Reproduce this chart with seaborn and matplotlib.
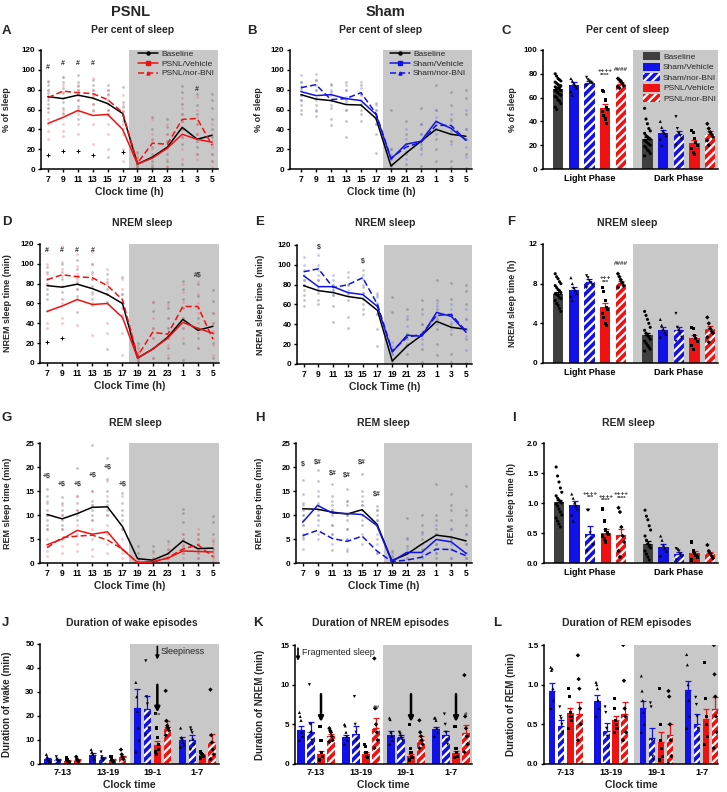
import numpy as np
import pandas as pd
import matplotlib
matplotlib.use('Agg')
import matplotlib.pyplot as plt
import seaborn as sns
from matplotlib.lines import Line2D
from matplotlib.patches import Patch

# ---------------- data ----------------
HOURS = ['7', '9', '11', '13', '15', '17', '19', '21', '23', '1', '3', '5']
PHASES = ['Light Phase', 'Dark Phase']
BLOCKS = ['7-13', '13-19', '19-1', '1-7']
GROUPS5 = ['Baseline', 'Sham/Vehicle', 'Sham/nor-BNI', 'PSNL/Vehicle', 'PSNL/nor-BNI']
GROUPS4 = GROUPS5[1:]

# Panel A: per cent of sleep, PSNL
A_base = [73, 71, 74.5, 71.5, 66, 56, 5, 12, 22, 42, 30, 34]
A_veh = [46, 52, 59, 54, 55, 40, 5, 11, 21, 35, 30, 27]
A_nbni = [72, 78.5, 77, 76, 70, 57, 6, 26, 25, 50, 51, 24]
A_pts_base = [[89, 85, 80, 77, 73, 70, 66, 62, 57], [93, 88, 82, 77, 72, 68, 62, 56], [95, 88, 84, 80, 75, 70, 64, 58, 50],
              [90, 85, 80, 76, 72, 66, 60], [85, 80, 76, 70, 66, 60, 55, 12], [83, 68, 63, 58, 54, 48, 40],
              [17, 12, 8, 5, 3, 1], [52, 40, 30, 22, 15, 8, 3, 1], [50, 42, 35, 28, 22, 15, 8, 2],
              [84, 78, 66, 55, 48, 40, 32, 25, 5], [76, 65, 55, 45, 35, 28, 22, 15], [76, 70, 62, 50, 40, 32, 25, 15, 8]]
A_pts_trt = [[88, 80, 74, 62, 50, 45, 38, 30], [93, 85, 78, 60, 55, 45, 38, 33], [85, 80, 76, 70, 62, 55, 45, 35],
             [92, 80, 74, 66, 58, 45, 25], [80, 75, 70, 60, 55, 45, 35, 20], [75, 65, 58, 45, 35, 20, 8],
             [15, 10, 6, 3, 1], [50, 35, 28, 20, 12, 5, 1], [45, 35, 28, 20, 10, 3],
             [72, 62, 55, 48, 40, 32, 20, 10], [73, 60, 52, 45, 35, 28, 15, 10], [45, 35, 28, 22, 15, 8, 2]]
A_plus_x = [0, 1, 2, 3, 5]
A_plus_y = [14, 18, 18, 14, 17]
A_marks = [(0, 102, '#'), (1, 106, '#'), (2, 106, '#'), (3, 106, '#'), (10, 80, '#')]

# Panel B: per cent of sleep, Sham
B_base = [75, 70.5, 69, 65, 64.5, 51, 3, 16, 28, 40, 35, 33]
B_veh = [78, 74, 75, 71, 69, 55, 10, 25, 28, 48, 41, 29]
B_nbni = [82, 85, 70, 71, 77, 56, 11, 22, 27, 44, 44, 29]
B_pts_base = [[88, 82, 75, 70, 65, 60, 55], [90, 80, 72, 65, 58, 53], [86, 78, 70, 62, 50, 44], [88, 80, 70, 60, 48, 32],
              [85, 75, 66, 60, 55, 48], [67, 60, 52, 45, 35, 16], [60, 20, 10, 3, 0], [48, 35, 25, 15, 5, 0],
              [62, 45, 35, 25, 20, 3], [85, 60, 48, 40, 30, 20, 8], [78, 65, 50, 38, 28, 8, 2], [80, 72, 55, 40, 30, 15, 1]]
B_pts_trt = [[95, 88, 84, 80, 75, 70], [96, 90, 85, 80, 70, 60], [85, 80, 75, 70, 65], [85, 80, 73, 68, 60],
             [88, 82, 76, 70, 65], [65, 60, 55, 50, 45], [20, 15, 10, 5], [40, 30, 25, 18, 10],
             [45, 35, 28, 22, 15], [60, 52, 47, 40, 35], [55, 48, 42, 35, 25], [60, 40, 30, 22, 12]]

# Panel D: NREM sleep time (min), PSNL
D_base = [78, 76.5, 79.5, 75, 69, 60, 5, 14, 26, 44, 33, 37]
D_veh = [52, 57.5, 64, 59, 60, 46, 5, 14, 25, 41, 35, 30]
D_nbni = [84, 89, 87, 86, 78, 64, 7, 31, 29, 57, 57, 24]
D_pts_base = [[97, 92, 85, 80, 75, 70, 65], [100, 92, 85, 78, 72, 65], [104, 95, 88, 82, 75, 68, 51],
              [100, 92, 85, 78, 72, 65, 58], [90, 82, 75, 70, 62, 14], [87, 70, 62, 55, 48],
              [20, 15, 10, 5, 2, 0], [62, 52, 35, 25, 15, 5, 0], [62, 55, 45, 35, 25, 15, 5],
              [83, 75, 65, 55, 45, 35, 20, 3], [80, 68, 55, 45, 35, 25, 15], [74, 63, 50, 40, 30, 20, 5]]
D_pts_trt = [[115, 100, 90, 85, 80, 52, 40, 35], [118, 102, 95, 88, 60, 45, 40], [110, 98, 90, 85, 75, 65, 38],
             [112, 100, 90, 85, 70, 60, 28], [95, 85, 80, 70, 60, 40, 30], [85, 75, 70, 60, 45, 30, 8],
             [18, 12, 8, 4, 1], [62, 45, 35, 25, 15, 5], [58, 45, 35, 28, 18, 8],
             [80, 72, 62, 55, 45, 35, 25], [82, 70, 60, 50, 40, 30, 15], [50, 40, 32, 25, 18, 8]]
D_plus_x = [0, 1]
D_plus_y = [21, 25]
D_marks = [(0, 113, '#'), (1, 113, '#'), (2, 113, '#'), (3, 113, '#'), (10, 88, '#$')]

# Panel E: NREM sleep time (min), Sham
E_base = [79, 74, 72, 68, 66, 54, 3, 18, 29, 43, 37, 35]
E_veh = [89, 78, 78, 72, 70, 58, 12, 29, 28, 52, 48, 32]
E_nbni = [93, 96, 77, 80, 87, 60, 13, 27, 30, 49, 50, 33]
E_pts_base = [[85, 80, 75, 70, 65, 58], [85, 78, 72, 65, 60], [80, 75, 70, 58, 42], [80, 72, 65, 47, 36],
              [78, 72, 66, 60, 55, 50], [70, 60, 50, 35, 18], [68, 52, 10, 3, 0], [55, 45, 30, 20, 10, 0],
              [65, 55, 40, 30, 15, 2], [85, 65, 55, 45, 35, 20, 9], [82, 66, 50, 40, 30, 10, 2], [80, 74, 60, 45, 35, 25, 1]]
E_pts_trt = [[108, 100, 95, 90, 85, 80], [110, 100, 95, 90, 85, 75], [90, 85, 80, 75, 70], [93, 88, 80, 75, 70],
             [95, 90, 86, 80, 72], [72, 68, 62, 58, 50], [22, 18, 14, 10], [48, 38, 30, 25, 18],
             [50, 40, 32, 25, 20], [62, 58, 52, 48, 40], [60, 55, 48, 42, 35], [55, 45, 35, 28, 14]]
E_marks = [(1, 117, '$'), (4, 103, '$')]

# Panel G: REM sleep time (min), PSNL
G_base = [10.1, 9.2, 10.3, 11.6, 11.7, 7.6, 0.9, 0.6, 1.9, 4.6, 3.0, 3.1]
G_veh = [3.8, 5.0, 6.8, 6.0, 6.5, 2.8, 0.1, 0.3, 1.0, 2.5, 2.4, 2.3]
G_nbni = [3.2, 5.3, 5.6, 5.8, 4.8, 2.9, 0.1, 0.1, 1.1, 2.9, 3.8, 1.3]
G_pts_base = [[15.5, 14, 12.5, 11, 10, 9, 8, 7], [13.8, 12.5, 11, 10, 9, 8, 7], [19.8, 14, 12.5, 11, 10, 9],
              [24.5, 15, 13, 12, 11, 10, 9], [21.8, 17.5, 15, 13, 12, 11, 10], [14.5, 12.5, 11, 10, 9, 7],
              [3.6, 2, 1, 0.5, 0], [3.6, 2.5, 1, 0.3, 0], [4.6, 3, 2, 1, 0],
              [11.3, 10.5, 8.5, 6, 5, 3.5, 2], [6, 5, 4, 3, 2, 1], [9.8, 8.5, 6, 4.5, 3, 1.5]]
G_pts_trt = [[13, 10, 7, 5, 3.5, 2.5, 1.5], [12, 10, 7, 5, 3.5, 2], [14, 11, 8, 6, 4, 2.5],
             [15, 12, 9, 7, 5, 3, 1.5], [17, 14, 10, 8, 6, 4, 2], [14, 7, 5, 3, 2, 1],
             [1, 0.5, 0.2, 0], [2, 1, 0.5, 0], [4, 3, 2, 1, 0.3],
             [6, 5, 4, 3, 2, 1], [7, 6, 5, 4, 3, 2, 1], [5, 4, 3, 2, 1, 0.5]]
G_marks = [(0, 18.0, '+$'), (1, 16.3, '+$'), (2, 16.3, '+$'), (3, 18.2, '+$'), (4, 19.8, '+$'), (5, 16.3, '+$')]

# Panel H: REM sleep time (min), Sham
H_base = [11.3, 11.2, 10.6, 10.2, 11.1, 8.1, 0.5, 1.8, 3.9, 5.8, 5.4, 4.6]
H_veh = [8.5, 12.0, 10.4, 10.3, 10.1, 7.8, 0.3, 2.2, 2.2, 4.9, 4.4, 2.0]
H_nbni = [5.7, 6.8, 5.1, 4.5, 5.6, 2.5, 0.3, 0.6, 1.2, 2.9, 2.8, 1.5]
H_pts_base = [[17.2, 14.3, 12.5, 11, 10, 9, 8, 5.5], [19.3, 17, 14, 12.5, 11, 10, 9], [16.5, 14, 12, 11, 10, 8, 6, 2.7],
              [15.4, 13, 12, 10, 9, 7, 5, 2.5], [18.5, 15, 13, 12, 11, 10, 8], [11.8, 11, 10, 9, 8, 5, 2],
              [2.5, 1.5, 0.5, 0], [9.4, 5.3, 3.5, 2, 1, 0], [9.9, 8, 6.5, 5, 3, 1.5, 0],
              [16.4, 10, 9, 7, 6, 4, 2, 1], [14.3, 12, 11, 9, 7, 5, 3, 1], [16.1, 11, 10, 8, 6, 4, 2, 1]]
H_pts_trt = [[12, 10, 8, 6, 5, 3], [15, 12, 10, 8, 6, 5], [13, 11, 8, 6, 4], [13, 10, 7, 5, 3],
             [14, 12, 9, 6, 4], [11, 9, 6, 4, 2], [2, 1, 0.5, 0], [5, 3, 2, 1, 0],
             [6, 4, 2, 1, 0], [8, 6, 4, 3, 2], [7, 5, 4, 3, 1], [6, 4, 2, 1, 0]]
H_marks = [(0, 20.6, '$'), (1, 21.0, '$#'), (2, 18.7, '$#'), (3, 18.2, '$#'), (4, 21.0, '$#'), (5, 14.2, '$#')]

# Panel C: per cent of sleep by phase (mean, SEM, points)
C_light = [67.5, 70.5, 72.5, 51.5, 71.5]
C_light_err = [1.5, 2.5, 1.5, 3.5, 1.5]
C_dark = [25.5, 30, 29, 22, 29.5]
C_dark_err = [1.5, 2.5, 3, 2, 2.5]
C_light_pts = [[80, 78, 76, 75, 74, 73, 72, 71, 70, 70, 69, 68, 68, 67, 66, 66, 65, 64, 63, 62, 61, 60, 58, 57, 55, 52, 50],
               [76, 74, 72, 70, 68, 65, 62], [77, 75, 74, 73, 72, 70], [66, 65, 58, 52, 50, 48, 45, 42, 38],
               [76, 75, 74, 72, 70, 69, 68]]
C_dark_pts = [[51, 42, 38, 34, 32, 30, 28, 27, 26, 25, 24, 23, 22, 21, 20, 19, 18, 16, 15, 13, 11],
              [40, 35, 32, 30, 28, 25, 20], [44, 34, 30, 28, 25, 20], [32, 31, 26, 22, 20, 17, 14, 12],
              [38, 34, 31, 29, 27, 24, 20]]
C_marks = [(3, 82.5, '++++'), (3, 78.5, '****'), (4, 83.5, '####')]

# Panel F: NREM sleep time (h) by phase
F_light = [7.0, 7.4, 8.2, 5.6, 8.1]
F_light_err = [0.2, 0.3, 0.3, 0.4, 0.2]
F_dark = [2.8, 3.3, 3.3, 2.5, 3.4]
F_dark_err = [0.2, 0.3, 0.35, 0.3, 0.3]
F_light_pts = [[9.0, 8.7, 8.5, 8.2, 8.0, 7.8, 7.6, 7.4, 7.3, 7.1, 7.0, 6.9, 6.8, 6.6, 6.5, 6.3, 6.0, 5.8, 5.5, 5.2],
               [8.6, 8.0, 7.6, 7.3, 7.0, 6.7, 6.3], [8.8, 8.6, 8.3, 8.1, 7.9, 7.6],
               [7.6, 7.2, 6.3, 5.6, 5.4, 5.0, 4.6, 4.0, 3.8], [9.0, 8.7, 8.4, 8.1, 7.8, 7.6]]
F_dark_pts = [[5.2, 4.8, 4.4, 4.0, 3.6, 3.3, 3.0, 2.8, 2.6, 2.4, 2.2, 2.0, 1.8, 1.6, 1.4, 1.2],
              [4.4, 3.8, 3.4, 3.1, 2.9, 2.6], [5.0, 3.6, 3.3, 3.0, 2.6, 2.2],
              [3.6, 3.5, 2.8, 2.5, 2.2, 1.8, 1.4], [4.6, 4.0, 3.5, 3.2, 3.0, 2.6, 2.1]]
F_marks = [(3, 8.6, '+++'), (3, 8.1, '***'), (4, 10.0, '####')]

# Panel I: REM sleep time (h) by phase
I_light = [1.01, 0.97, 0.49, 0.50, 0.46]
I_light_err = [0.04, 0.06, 0.13, 0.06, 0.10]
I_dark = [0.31, 0.27, 0.15, 0.16, 0.16]
I_dark_err = [0.05, 0.05, 0.03, 0.04, 0.03]
I_light_pts = [[1.6, 1.45, 1.35, 1.25, 1.18, 1.12, 1.08, 1.05, 1.02, 1.0, 0.98, 0.95, 0.9, 0.85, 0.8, 0.75, 0.7, 0.65, 0.6],
               [1.15, 1.08, 1.0, 0.95, 0.9, 0.8, 0.7], [0.88, 0.88, 0.5, 0.4, 0.3, 0.2],
               [0.9, 0.7, 0.55, 0.5, 0.48, 0.45, 0.4, 0.35], [0.92, 0.85, 0.6, 0.45, 0.35, 0.2, 0.1]]
I_dark_pts = [[0.88, 0.78, 0.72, 0.62, 0.55, 0.45, 0.38, 0.32, 0.28, 0.25, 0.2, 0.15, 0.1, 0.05],
              [0.45, 0.38, 0.3, 0.25, 0.2, 0.12], [0.24, 0.22, 0.2, 0.15, 0.1, 0.05],
              [0.35, 0.2, 0.16, 0.12, 0.1, 0.05], [0.3, 0.2, 0.16, 0.12, 0.08]]
I_marks = [(2, 1.16, '++++'), (2, 1.09, '***'), (3, 1.11, '++++'), (3, 1.04, '****'),
           (4, 1.16, '++++'), (4, 1.08, '****')]

# Panel J: duration of wake episodes (min), 4 blocks x 4 groups
J_mean = [[2.2, 1.5, 1.3, 1.8], [3.7, 2.6, 1.6, 2.9], [23.3, 23.0, 8.0, 15.5], [10.0, 10.0, 3.8, 9.2]]
J_err = [[0.5, 0.4, 0.4, 0.4], [0.8, 0.5, 0.3, 0.6], [8.0, 5.5, 1.5, 2.5], [1.3, 2.0, 0.5, 3.2]]
J_pts = [[[4, 3, 2, 1.5, 1], [3, 2, 1.2, 1], [2.5, 2, 1.5, 1, 0.5], [3, 2, 1.5, 1]],
         [[6, 5, 4, 3, 2], [5, 3, 2, 1.5], [3, 2, 1.5, 1], [6, 4, 3, 2]],
         [[34, 28, 22, 15, 10, 5], [43, 28, 25, 20, 15, 12], [21, 15, 11, 8, 6, 5, 4], [30.5, 18, 16, 15, 14, 12]],
         [[15, 11, 10.5, 9, 8, 7], [15, 14, 13, 10, 8, 6], [5, 4.5, 4, 3.5, 3, 2.5], [31, 12, 9, 6, 4, 2]]]

# Panel K: duration of NREM episodes (min)
K_mean = [[4.3, 4.0, 1.3, 3.5], [3.4, 3.8, 1.3, 4.6], [3.7, 3.4, 1.0, 3.0], [4.4, 3.6, 1.4, 3.9]]
K_err = [[0.5, 1.3, 0.3, 0.3], [0.3, 1.0, 0.2, 1.2], [0.5, 0.3, 0.2, 0.5], [0.3, 0.5, 0.2, 1.0]]
K_pts = [[[6.5, 6, 5.5, 4, 3.5, 3], [10, 5, 4, 3, 2.5], [4.7, 4.7, 3, 1.5, 1, 0.5], [4.5, 4.2, 4, 3.5, 3, 2.8]],
         [[5, 4.8, 4, 3.5, 3, 2.5], [8.5, 5, 4, 3, 2], [2.5, 2.2, 1.5, 1, 0.8], [13.3, 7, 5, 4, 3, 2]],
         [[5.8, 5.6, 4, 3.5, 3, 2.5], [4, 3.8, 3.5, 3.2, 3], [5, 2, 1.5, 1, 0.8, 0.5], [5.5, 4, 3.5, 3, 2.5, 2]],
         [[5.8, 5.8, 5.5, 4.5, 4, 3.5], [6.3, 5, 4, 3, 2.5], [4.7, 4.7, 2, 1.5, 1, 0.8], [11.2, 6, 4.5, 3.5, 2.5, 1.5]]]

# Panel L: duration of REM episodes (min)
L_mean = [[0.92, 0.48, 0.64, 0.63], [0.79, 0.42, 0.55, 0.63], [0.70, 0.33, 0.28, 0.36], [0.93, 0.50, 0.57, 0.69]]
L_err = [[0.10, 0.07, 0.07, 0.15], [0.08, 0.10, 0.05, 0.15], [0.10, 0.13, 0.12, 0.14], [0.12, 0.13, 0.12, 0.15]]
L_pts = [[[1.22, 1.18, 1.2, 0.95, 0.8, 0.7], [0.72, 0.6, 0.57, 0.5, 0.4], [0.95, 0.85, 0.65, 0.6, 0.55, 0.45], [1.37, 1.07, 0.95, 0.7, 0.5, 0.3]],
         [[1.03, 1.0, 0.95, 0.8, 0.7, 0.6], [0.72, 0.65, 0.45, 0.35, 0.2], [0.82, 0.7, 0.55, 0.5, 0.45, 0.4], [1.5, 1.05, 0.7, 0.6, 0.4, 0.3]],
         [[1.11, 0.92, 0.8, 0.65, 0.5, 0.4], [0.77, 0.72, 0.3, 0.1, 0.05], [0.95, 0.5, 0.3, 0.2, 0.1, 0.05], [0.92, 0.85, 0.5, 0.3, 0.1, 0.0]],
         [[1.38, 1.25, 1.0, 0.8, 0.6, 0.45], [0.84, 0.75, 0.6, 0.45, 0.3], [1.28, 0.82, 0.6, 0.5, 0.35, 0.25], [1.5, 1.13, 0.85, 0.6, 0.4, 0.2]]]

# ---------------- style ----------------
sns.set_style('ticks')
plt.rcParams['font.family'] = ['Liberation Sans', 'DejaVu Sans']
plt.rcParams['font.weight'] = 'bold'
plt.rcParams['axes.labelweight'] = 'bold'
plt.rcParams['hatch.linewidth'] = 1.6

SHADE = '#c8c8c8'
BLACK = '#000000'
GRAY = '#3f3f3f'
BLUE = '#1212e8'
RED = '#f01212'
COLORS5 = [GRAY, BLUE, BLUE, RED, RED]
HATCH5 = [False, False, True, False, True]
MARK5 = ['o', '^', 'v', 's', 'D']
HATCH = '////'

FW, FH = 727, 792
fig = plt.figure(figsize=(FW / 100, FH / 100), dpi=100)


def add_ax(l, t, r, b):
    return fig.add_axes([l / FW, 1 - b / FH, (r - l) / FW, (b - t) / FH])


def ftext(x, y, s, **kw):
    fig.text(x / FW, 1 - y / FH, s, **kw)


def base_style(ax, box, ylab_x, ytickfs=5.8):
    l, t, r, b = box
    for s in ['top', 'right']:
        ax.spines[s].set_visible(False)
    for s in ['left', 'bottom']:
        ax.spines[s].set_linewidth(1.1)
        ax.spines[s].set_color('black')
    ax.tick_params(axis='y', length=2.5, width=1.0, pad=1.5, labelsize=ytickfs, colors='black')
    ax.yaxis.set_label_coords((ylab_x - l) / (r - l), 0.5)


def pts_long(pts):
    xs, ys = [], []
    for i, vals in enumerate(pts):
        xs += [i] * len(vals)
        ys += list(vals)
    return xs, ys


def line_panel(box, series, names, colors, dashes, pts_base, pts_trt, trt_pt_color, ymax, ystep,
               ylabel, xlabel, ylab_x, xl, shade):
    ax = add_ax(*box)
    xr = 11.4
    ax.set_xlim(xl, xr)
    ax.set_ylim(0, ymax)
    ax.axvspan(shade, xr, color=SHADE, lw=0, zorder=0)
    bx, by = pts_long(pts_base)
    sns.scatterplot(x=bx, y=by, color='#555555', alpha=0.35, s=4, linewidth=0, ax=ax, legend=False, zorder=1)
    tx, ty = pts_long(pts_trt)
    sns.scatterplot(x=tx, y=ty, color=trt_pt_color, alpha=0.4, s=4, linewidth=0, ax=ax, legend=False, zorder=1)
    rows = []
    for nm, ser in zip(names, series):
        for i, v in enumerate(ser):
            rows.append((i, v, nm))
    df = pd.DataFrame(rows, columns=['pos', 'val', 'grp'])
    sns.lineplot(data=df, x='pos', y='val', hue='grp', style='grp', palette=dict(zip(names, colors)),
                 dashes=dict(zip(names, dashes)), linewidth=1.1, legend=False, ax=ax, zorder=3)
    ax.set_xticks(range(12))
    ax.set_xticklabels(HOURS)
    ax.set_yticks(np.arange(0, ymax + 0.001, ystep))
    ax.tick_params(axis='x', length=2, width=1.0, pad=2, labelsize=6.2, colors='black')
    ax.set_xlabel(xlabel, fontsize=7.5, fontweight='bold')
    ax.set_ylabel(ylabel, fontsize=6.5, fontweight='bold')
    base_style(ax, box, ylab_x)
    l, t, r, b = box
    ax.xaxis.set_label_coords(0.5, -23 / (b - t))
    ax.xaxis.label.set_va('center')
    return ax


def marks(ax, items, fs=5):
    for x, y, s in items:
        ax.text(x, y, s, ha='center', va='center', fontsize=fs, color='#333333', fontweight='bold', zorder=5)


def draw_bar(ax, x, m, e, color, hatched, width, errcolor=None):
    if hatched:
        ax.bar(x, m, width=width, color=color, edgecolor='white', hatch=HATCH, linewidth=0, zorder=2)
    else:
        ax.bar(x, m, width=width, color=color, linewidth=0, zorder=2)
    ax.errorbar([x], [m], yerr=[[0], [e]], color=errcolor or color, capsize=2, elinewidth=0.9,
                capthick=0.9, zorder=3)


def dot_offsets(n, spread):
    return [((i % 5) - 2) * spread / 2 for i in range(n)]


def phase_panel(box, light, light_err, dark, dark_err, light_pts, dark_pts, ymax, ystep, ylabel, ylab_x):
    ax = add_ax(*box)
    xl, xr = -0.96, 10.2
    ax.set_xlim(xl, xr)
    ax.set_ylim(0, ymax)
    ax.axvspan(4.8, xr, color=SHADE, lw=0, zorder=0)
    pos_l = [0, 1, 2, 3, 4]
    pos_d = [5.7, 6.7, 7.7, 8.7, 9.7]
    dx, dy, dm = [], [], []
    for pos, means, errs, pts in [(pos_l, light, light_err, light_pts), (pos_d, dark, dark_err, dark_pts)]:
        for k in range(5):
            draw_bar(ax, pos[k], means[k], errs[k], COLORS5[k], HATCH5[k], 0.66,
                     errcolor='black' if k == 0 else None)
            offs = dot_offsets(len(pts[k]), 0.18)
            dx += [pos[k] + o for o in offs]
            dy += list(pts[k])
            dm += [GROUPS5[k]] * len(pts[k])
    sns.scatterplot(x=dx, y=dy, style=dm, markers=dict(zip(GROUPS5, MARK5)), color='black', s=5,
                    linewidth=0, ax=ax, legend=False, zorder=4)
    ax.set_xticks([2, 7.7])
    ax.set_xticklabels(PHASES)
    ax.tick_params(axis='x', length=0, pad=3.5, labelsize=6.5, colors='black')
    ax.set_yticks(np.arange(0, ymax + 0.001, ystep))
    ax.set_ylabel(ylabel, fontsize=6.5, fontweight='bold')
    base_style(ax, box, ylab_x)
    return ax


def dur_panel(box, means, errs, pts, ymax, ystep, ylabel, ylab_x, gstep, xl, xr, shade, width):
    ax = add_ax(*box)
    ax.set_xlim(xl, xr)
    ax.set_ylim(0, ymax)
    ax.axvspan(shade, xr, color=SHADE, lw=0, zorder=0)
    cols = COLORS5[1:]
    hat = HATCH5[1:]
    dx, dy, dm = [], [], []
    centers = []
    for g in range(4):
        centers.append(g * gstep + 1.5)
        for k in range(4):
            x = g * gstep + k
            draw_bar(ax, x, means[g][k], errs[g][k], cols[k], hat[k], width)
            offs = dot_offsets(len(pts[g][k]), 0.16)
            dx += [x + o for o in offs]
            dy += list(pts[g][k])
            dm += [GROUPS4[k]] * len(pts[g][k])
    sns.scatterplot(x=dx, y=dy, style=dm, markers=dict(zip(GROUPS4, MARK5[1:])), color='black', s=5,
                    linewidth=0, ax=ax, legend=False, zorder=4)
    ax.set_xticks(centers)
    ax.set_xticklabels(BLOCKS)
    ax.tick_params(axis='x', length=0, pad=3, labelsize=6.5, colors='black')
    ax.set_yticks(np.arange(0, ymax + 0.0001, ystep))
    ax.set_ylabel(ylabel, fontsize=7, fontweight='bold')
    ax.set_xlabel('Clock time', fontsize=7.5, fontweight='bold')
    base_style(ax, box, ylab_x)
    l, t, r, b = box
    ax.xaxis.set_label_coords(0.5, -21 / (b - t))
    ax.xaxis.label.set_va('center')
    return ax


def arrow(ax, x, y0, y1, lw=1.8, ms=7):
    ax.annotate('', xy=(x, y1), xytext=(x, y0),
                arrowprops=dict(arrowstyle='-|>', lw=lw, color='black', mutation_scale=ms,
                                shrinkA=0, shrinkB=0), zorder=6)


PS_NAMES = ['Baseline', 'PSNL/Vehicle', 'PSNL/nor-BNI']
SH_NAMES = ['Baseline', 'Sham/Vehicle', 'Sham/nor-BNI']
DASHES = ['', '', (4, 2)]
PINK = '#f07070'
LBLUE = '#6878e8'

# ---- Row 1 ----
axA = line_panel((41, 50, 218, 169), [A_base, A_veh, A_nbni], PS_NAMES, [BLACK, RED, RED], DASHES,
                 A_pts_base, A_pts_trt, PINK, 120, 20, '% of sleep', 'Clock time (h)', 11, -0.47, 5.4)
sns.scatterplot(x=A_plus_x, y=A_plus_y, marker='+', color='black', s=10, linewidth=0.7, ax=axA, legend=False, zorder=4)
marks(axA, A_marks)
axB = line_panel((290, 50, 472, 169), [B_base, B_veh, B_nbni], SH_NAMES, [BLACK, BLUE, BLUE], DASHES,
                 B_pts_base, B_pts_trt, LBLUE, 120, 20, '% of sleep', 'Clock time (h)', 263, -0.73, 5.45)
axC = phase_panel((543, 50, 718, 169), C_light, C_light_err, C_dark, C_dark_err, C_light_pts, C_dark_pts,
                  100, 20, '% of sleep', 517)
marks(axC, C_marks, fs=4.5)

# legends
for ax, names, cols in [(axA, PS_NAMES, [BLACK, RED, RED]), (axB, SH_NAMES, [BLACK, BLUE, BLUE])]:
    hs = [Line2D([0], [0], color=cols[0], lw=1.1, marker='o', ms=2.2),
          Line2D([0], [0], color=cols[1], lw=1.1, marker='s', ms=2.2),
          Line2D([0], [0], color=cols[2], lw=1.1, ls=(0, (4, 2)), marker='^', ms=2.2)]
    leg = ax.legend(hs, names, loc='upper left', bbox_to_anchor=(0.53, 1.03), frameon=False,
                    prop={'size': 6.0, 'weight': 'normal'}, handlelength=2.4, labelspacing=0.25,
                    handletextpad=0.4, borderaxespad=0)
hsC = [Patch(facecolor=COLORS5[k], edgecolor='white' if HATCH5[k] else COLORS5[k],
             hatch=HATCH if HATCH5[k] else None, linewidth=0) for k in range(5)]
axC.legend(hsC, GROUPS5, loc='upper left', bbox_to_anchor=(0.55, 1.01), frameon=False,
           prop={'size': 6.0, 'weight': 'normal'}, handlelength=2.1, handleheight=1.1, labelspacing=0.2,
           handletextpad=0.35, borderaxespad=0)

# ---- Row 2 ----
axD = line_panel((40, 244, 219, 363), [D_base, D_veh, D_nbni], PS_NAMES, [BLACK, RED, RED], DASHES,
                 D_pts_base, D_pts_trt, PINK, 120, 20, 'NREM sleep time (min)', 'Clock Time (h)', 12, -0.47, 5.4)
sns.scatterplot(x=D_plus_x, y=D_plus_y, marker='+', color='black', s=10, linewidth=0.7, ax=axD, legend=False, zorder=4)
marks(axD, D_marks)
axE = line_panel((297, 245, 472, 364), [E_base, E_veh, E_nbni], SH_NAMES, [BLACK, BLUE, BLUE], DASHES,
                 E_pts_base, E_pts_trt, LBLUE, 120, 20, 'NREM sleep time  (min)', 'Clock Time (h)', 265, -0.45, 5.45)
marks(axE, E_marks)
axF = phase_panel((543, 244, 718, 363), F_light, F_light_err, F_dark, F_dark_err, F_light_pts, F_dark_pts,
                  12, 4, 'NREM sleep time (h)', 517)
marks(axF, F_marks, fs=4.5)

# ---- Row 3 ----
axG = line_panel((40, 443, 219, 563), [G_base, G_veh, G_nbni], PS_NAMES, [BLACK, RED, RED], DASHES,
                 G_pts_base, G_pts_trt, PINK, 25, 5, 'REM sleep time (min)', 'Clock Time (h)', 12, -0.47, 5.4)
marks(axG, G_marks)
axH = line_panel((296, 443, 472, 563), [H_base, H_veh, H_nbni], SH_NAMES, [BLACK, BLUE, BLUE], DASHES,
                 H_pts_base, H_pts_trt, LBLUE, 25, 5, 'REM sleep time (min)', 'Clock Time (h)', 264, -0.45, 5.45)
marks(axH, H_marks)
axI = phase_panel((544, 443, 718, 563), I_light, I_light_err, I_dark, I_dark_err, I_light_pts, I_dark_pts,
                  2.0, 0.5, 'REM sleep time (h)', 516)
marks(axI, I_marks, fs=4.5)

# ---- Row 4 ----
axJ = dur_panel((40, 644, 219, 764), J_mean, J_err, J_pts, 50, 10, 'Duration of wake (min)', 12,
                4.5, -0.8, 17.2, 8.2, 0.72)
marks(axJ, [(11, 20.4, '***')], fs=4.5)
arrow(axJ, 11, 33, 21.5, lw=1.8, ms=7)
arrow(axJ, 11, 49, 43.5, lw=1.2, ms=5)
axJ.text(11.35, 47, 'Sleepiness', fontsize=6.5, fontweight='normal', va='center', ha='left')

axK = dur_panel((295, 645, 472, 764), K_mean, K_err, K_pts, 15, 5, 'Duration of NREM (min)', 265,
                4.5, -0.6, 17.1, 8.2, 0.72)
for g in [0, 2, 3]:
    arrow(axK, g * 4.5 + 2, 8.8, 5.3, lw=1.8, ms=7)
arrow(axK, -0.3, 14.6, 13.0, lw=1.2, ms=5)
axK.text(0.1, 14.1, 'Fragmented sleep', fontsize=6.5, fontweight='normal', va='center', ha='left')
marks(axK, [(4.5 + 3, 7.1, '##'), (13.5 + 3, 6.3, '#')], fs=4.5)

axL = dur_panel((544, 645, 718, 764), L_mean, L_err, L_pts, 1.5, 0.5, 'Duration of REM (min)', 516,
                5.0, -0.9, 18.3, 9.0, 0.72)

# ---- figure texts ----
ftext(131, 12, 'PSNL', fontsize=10.5, fontweight='bold', ha='center', va='center')
ftext(385, 12, 'Sham', fontsize=10.5, fontweight='bold', ha='center', va='center')
titles = [(133, 30, 'Per cent of sleep'), (381, 30, 'Per cent of sleep'), (628, 30, 'Per cent of sleep'),
          (142, 223, 'NREM sleep'), (385, 223, 'NREM sleep'), (627, 223, 'NREM sleep'),
          (135, 423, 'REM sleep'), (383, 423, 'REM sleep'), (628, 423, 'REM sleep'),
          (132, 623, 'Duration of wake episodes'), (381, 623, 'Duration of NREM episodes'),
          (627, 623, 'Duration of REM episodes')]
for x, y, s in titles:
    ftext(x, y, s, fontsize=7.5, fontweight='bold', ha='center', va='center')
letters = [(2, 31, 'A'), (247, 31, 'B'), (502, 31, 'C'), (2, 222, 'D'), (255, 222, 'E'), (507, 222, 'F'),
           (2, 418, 'G'), (255, 418, 'H'), (512, 418, 'I'), (2, 623, 'J'), (253, 623, 'K'), (493, 623, 'L')]
for x, y, s in letters:
    ftext(x, y, s, fontsize=9.5, fontweight='bold', ha='left', va='center')

fig.savefig('out.png', dpi=100)
